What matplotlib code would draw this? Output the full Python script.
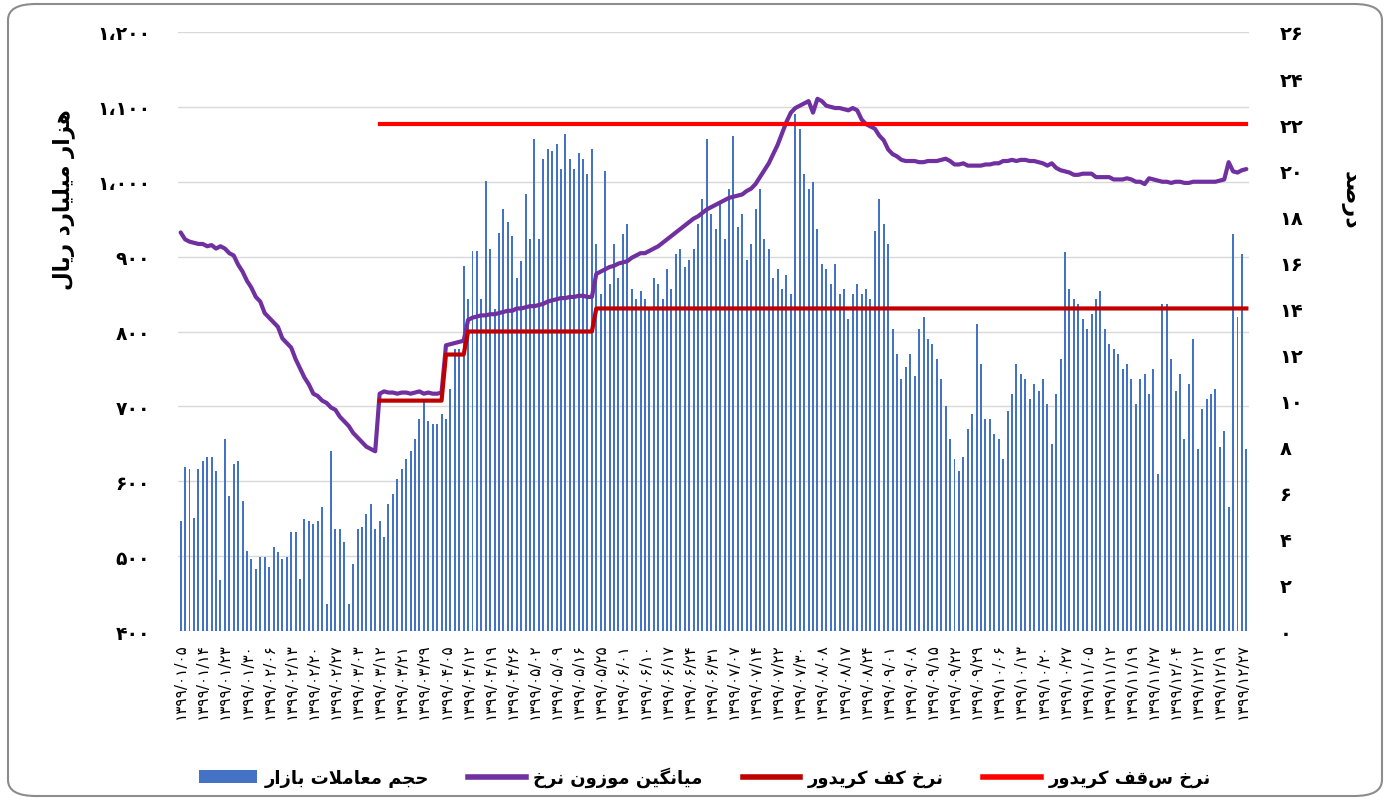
import matplotlib
matplotlib.use('AGG')

import matplotlib.pyplot as plt
from matplotlib.patches import FancyBboxPatch, Patch
from matplotlib.lines import Line2D
import numpy as np

plt.rcParams['font.family'] = ['DejaVu Sans']

# presentation forms: isolated, final, initial, medial (None = does not join forward)
FORMS = {
    'ا': ('\uFE8D', '\uFE8E', None, None),
    'ب': ('\uFE8F', '\uFE90', '\uFE91', '\uFE92'),
    'ت': ('\uFE95', '\uFE96', '\uFE97', '\uFE98'),
    'ج': ('\uFE9D', '\uFE9E', '\uFE9F', '\uFEA0'),
    'ح': ('\uFEA1', '\uFEA2', '\uFEA3', '\uFEA4'),
    'خ': ('\uFEA5', '\uFEA6', '\uFEA7', '\uFEA8'),
    'د': ('\uFEA9', '\uFEAA', None, None),
    'ر': ('\uFEAD', '\uFEAE', None, None),
    'ز': ('\uFEAF', '\uFEB0', None, None),
    'ص': ('\uFEB9', '\uFEBA', '\uFEBB', '\uFEBC'),
    'ع': ('\uFEC9', '\uFECA', '\uFECB', '\uFECC'),
    'ف': ('\uFED1', '\uFED2', '\uFED3', '\uFED4'),
    'ق': ('\uFED5', '\uFED6', '\uFED7', '\uFED8'),
    'ل': ('\uFEDD', '\uFEDE', '\uFEDF', '\uFEE0'),
    'م': ('\uFEE1', '\uFEE2', '\uFEE3', '\uFEE4'),
    'ن': ('\uFEE5', '\uFEE6', '\uFEE7', '\uFEE8'),
    'ه': ('\uFEE9', '\uFEEA', '\uFEEB', '\uFEEC'),
    'و': ('\uFEED', '\uFEEE', None, None),
    'ی': ('\uFBFC', '\uFBFD', '\uFBFE', '\uFBFF'),
    'ک': ('\uFB8E', '\uFB8F', '\uFB90', '\uFB91'),
    'گ': ('\uFB92', '\uFB93', '\uFB94', '\uFB95'),
}


def fa(text):
    # join persian letters and put them in visual (left to right) order
    out = []
    i = 0
    n = len(text)
    while i < n:
        ch = text[i]
        prev = text[i - 1] if i > 0 else ' '
        nxt = text[i + 1] if i + 1 < n else ' '
        joins_prev = prev in FORMS and FORMS[prev][2] is not None and ch in FORMS
        if ch == 'ل' and nxt == 'ا':
            out.append('\uFEFC' if joins_prev else '\uFEFB')
            i += 2
            continue
        if ch not in FORMS:
            out.append(ch)
            i += 1
            continue
        f = FORMS[ch]
        joins_next = f[2] is not None and nxt in FORMS
        if joins_prev and joins_next:
            out.append(f[3])
        elif joins_prev:
            out.append(f[1])
        elif joins_next:
            out.append(f[2])
        else:
            out.append(f[0])
        i += 1
    return ''.join(reversed(out))


def fa_num(s):
    return str(s).translate(str.maketrans('0123456789,', '۰۱۲۳۴۵۶۷۸۹،'))


# market volume (thousand billion rial), one bar per trading day
volume = [
    547, 619, 616, 551, 616, 627, 632, 632, 614, 468,
    656, 580, 623, 627, 574, 507, 496, 483, 499, 499,
    485, 512, 505, 496, 499, 532, 532, 469, 550, 547,
    543, 547, 566, 436, 640, 536, 536, 519, 436, 490,
    536, 539, 556, 570, 536, 547, 526, 570, 583, 603,
    616, 630, 640, 656, 683, 710, 680, 676, 676, 690,
    683, 723, 777, 777, 888, 843, 908, 908, 843, 1001,
    910, 830, 932, 963, 946, 928, 871, 894, 983, 924,
    1057, 924, 1030, 1044, 1041, 1050, 1017, 1064, 1030, 1017,
    1038, 1030, 1010, 1044, 917, 850, 1015, 863, 917, 871,
    930, 944, 857, 843, 854, 843, 830, 871, 863, 843,
    884, 857, 904, 910, 886, 896, 910, 944, 977, 1057,
    957, 937, 970, 924, 990, 1061, 940, 957, 896, 917,
    963, 990, 924, 910, 871, 884, 857, 876, 850, 1090,
    1070, 1010, 990, 1000, 937, 890, 884, 863, 890, 850,
    857, 817, 850, 863, 850, 857, 843, 934, 977, 944,
    917, 803, 770, 736, 753, 770, 740, 803, 820, 790,
    783, 763, 736, 700, 656, 630, 614, 632, 670, 690,
    810, 757, 683, 683, 663, 656, 630, 694, 717, 757,
    743, 736, 710, 730, 720, 736, 703, 650, 717, 763,
    906, 857, 843, 837, 817, 803, 823, 843, 854, 803,
    783, 777, 770, 750, 757, 736, 703, 736, 743, 717,
    750, 610, 837, 837, 763, 720, 743, 656, 730, 790,
    643, 697, 710, 717, 723, 646, 667, 565, 930, 820,
    903, 643,
]

# weighted average rate (percent)
avg_rate = [
    17.3, 17.0, 16.9, 16.85, 16.8, 16.8, 16.7, 16.75, 16.6, 16.7,
    16.6, 16.4, 16.3, 15.9, 15.6, 15.2, 14.9, 14.5, 14.3, 13.8,
    13.6, 13.4, 13.2, 12.7, 12.5, 12.3, 11.8, 11.4, 11.0, 10.7,
    10.3, 10.2, 10.0, 9.9, 9.7, 9.6, 9.3, 9.1, 8.9, 8.6,
    8.4, 8.2, 8.0, 7.9, 7.8, 10.3, 10.4, 10.35, 10.35, 10.3,
    10.35, 10.35, 10.3, 10.35, 10.4, 10.3, 10.35, 10.3, 10.3, 10.35,
    12.4, 12.45, 12.5, 12.55, 12.6, 13.5, 13.6, 13.65, 13.7, 13.7,
    13.75, 13.75, 13.8, 13.85, 13.9, 13.9, 14.0, 14.0, 14.05, 14.1,
    14.1, 14.15, 14.2, 14.3, 14.35, 14.4, 14.45, 14.45, 14.5, 14.5,
    14.55, 14.55, 14.5, 14.5, 15.5, 15.6, 15.7, 15.8, 15.85, 15.95,
    16.0, 16.05, 16.2, 16.3, 16.4, 16.4, 16.5, 16.6, 16.7, 16.85,
    17.0, 17.15, 17.3, 17.45, 17.6, 17.75, 17.9, 18.0, 18.15, 18.3,
    18.4, 18.5, 18.6, 18.7, 18.8, 18.85, 18.9, 18.95, 19.1, 19.2,
    19.4, 19.7, 20.0, 20.3, 20.7, 21.1, 21.6, 22.1, 22.5, 22.7,
    22.8, 22.9, 23.0, 22.5, 23.1, 23.0, 22.8, 22.75, 22.7, 22.7,
    22.65, 22.6, 22.7, 22.6, 22.2, 22.0, 21.9, 21.8, 21.5, 21.3,
    20.9, 20.7, 20.6, 20.45, 20.4, 20.4, 20.4, 20.35, 20.35, 20.4,
    20.4, 20.4, 20.45, 20.5, 20.4, 20.25, 20.25, 20.3, 20.2, 20.2,
    20.2, 20.2, 20.25, 20.25, 20.3, 20.3, 20.4, 20.4, 20.45, 20.4,
    20.45, 20.45, 20.4, 20.4, 20.35, 20.3, 20.2, 20.3, 20.1, 20.0,
    19.95, 19.9, 19.8, 19.8, 19.85, 19.85, 19.85, 19.7, 19.7, 19.7,
    19.7, 19.6, 19.6, 19.6, 19.65, 19.6, 19.5, 19.5, 19.4, 19.65,
    19.6, 19.55, 19.5, 19.5, 19.45, 19.5, 19.5, 19.45, 19.45, 19.5,
    19.5, 19.5, 19.5, 19.5, 19.5, 19.55, 19.6, 20.35, 19.95, 19.9,
    20.0, 20.05,
]

# corridor: (first day index, rate)
floor_steps = [(45, 10), (60, 12), (65, 13), (94, 14)]
ceiling_steps = [(45, 22)]

date_labels = [
    '۱۳۹۹/۰۱/۰۵', '۱۳۹۹/۰۱/۱۴', '۱۳۹۹/۰۱/۲۳', '۱۳۹۹/۰۱/۳۰', '۱۳۹۹/۰۲/۰۶',
    '۱۳۹۹/۰۲/۱۳', '۱۳۹۹/۰۲/۲۰', '۱۳۹۹/۰۲/۲۷', '۱۳۹۹/۰۳/۰۳', '۱۳۹۹/۰۳/۱۲',
    '۱۳۹۹/۰۳/۲۱', '۱۳۹۹/۰۳/۲۹', '۱۳۹۹/۰۴/۰۵', '۱۳۹۹/۰۴/۱۲', '۱۳۹۹/۰۴/۱۹',
    '۱۳۹۹/۰۴/۲۶', '۱۳۹۹/۰۵/۰۲', '۱۳۹۹/۰۵/۰۹', '۱۳۹۹/۰۵/۱۶', '۱۳۹۹/۰۵/۲۵',
    '۱۳۹۹/۰۶/۰۱', '۱۳۹۹/۰۶/۱۰', '۱۳۹۹/۰۶/۱۷', '۱۳۹۹/۰۶/۲۴', '۱۳۹۹/۰۶/۳۱',
    '۱۳۹۹/۰۷/۰۷', '۱۳۹۹/۰۷/۱۴', '۱۳۹۹/۰۷/۲۲', '۱۳۹۹/۰۷/۳۰', '۱۳۹۹/۰۸/۰۸',
    '۱۳۹۹/۰۸/۱۷', '۱۳۹۹/۰۸/۲۴', '۱۳۹۹/۰۹/۰۱', '۱۳۹۹/۰۹/۰۸', '۱۳۹۹/۰۹/۱۵',
    '۱۳۹۹/۰۹/۲۲', '۱۳۹۹/۰۹/۲۹', '۱۳۹۹/۱۰/۰۶', '۱۳۹۹/۱۰/۱۳', '۱۳۹۹/۱۰/۲۰',
    '۱۳۹۹/۱۰/۲۷', '۱۳۹۹/۱۱/۰۵', '۱۳۹۹/۱۱/۱۲', '۱۳۹۹/۱۱/۱۹', '۱۳۹۹/۱۱/۲۷',
    '۱۳۹۹/۱۲/۰۴', '۱۳۹۹/۱۲/۱۲', '۱۳۹۹/۱۲/۱۹', '۱۳۹۹/۱۲/۲۷',
]

n = len(volume)
x = np.arange(n)


def steps_to_series(steps):
    s = np.full(n, np.nan)
    for start, val in steps:
        s[start:] = val
    return s


floor_rate = steps_to_series(floor_steps)
ceiling_rate = steps_to_series(ceiling_steps)

W, H = 1389, 803
fig = plt.figure(figsize=(W / 100, H / 100), dpi=100)
fig.patches.append(FancyBboxPatch((8 / W, 6 / H), 1374 / W, 792 / H,
                                  boxstyle='round,pad=0,rounding_size=0.02',
                                  transform=fig.transFigure, facecolor='white',
                                  edgecolor='#8C8C8C', lw=1.5, zorder=-1))

ax = fig.add_axes([178 / W, 1 - 632 / H, (1249 - 178) / W, (632 - 33) / H])
ax.patch.set_alpha(0)
ax.bar(x, volume, width=0.45, color='#4472C4', lw=0, zorder=2)
ax.set_ylim(400, 1200)
ax.set_xlim(-0.6, n - 0.4)
yt = list(range(400, 1201, 100))
ax.set_yticks(yt)
ax.set_yticklabels([fa_num(f'{v:,}') for v in yt], fontsize=13.5, fontweight='bold')
ax.grid(axis='y', color='#D9D9D9', lw=1, zorder=0)
ax.set_axisbelow(True)
ax.set_xticks(range(0, n, 5))
ax.set_xticklabels(date_labels, rotation=90, fontsize=11)
ax.tick_params(axis='y', length=0, pad=20)
ax.tick_params(axis='x', length=0, pad=8)
for s in ax.spines.values():
    s.set_visible(False)

ax2 = ax.twinx()
ax2.plot(x, avg_rate, color='#7030A0', lw=3, solid_capstyle='round', zorder=3)
ax2.plot(x, floor_rate, color='#C00000', lw=3, zorder=3)
ax2.plot(x, ceiling_rate, color='#FF0000', lw=3, zorder=3)
ax2.set_ylim(0, 26)
rt = list(range(0, 27, 2))
ax2.set_yticks(rt)
ax2.set_yticklabels([fa_num(v) for v in rt], fontsize=14, fontweight='bold')
ax2.tick_params(axis='y', length=0, pad=22)
for s in ax2.spines.values():
    s.set_visible(False)

fig.text(64 / W, 1 - 200 / H, fa('هزار میلیارد ریال'), rotation=90,
         ha='center', va='center', fontsize=15.5, fontweight='bold')
fig.text(1350 / W, 1 - 200 / H, fa('درصد'), rotation=-90,
         ha='center', va='center', fontsize=16, fontweight='bold')

handles = [
    Patch(facecolor='#4472C4'),
    Line2D([], [], color='#7030A0', lw=4),
    Line2D([], [], color='#C00000', lw=4),
    Line2D([], [], color='#FF0000', lw=4),
]
names = [fa('حجم معاملات بازار'), fa('میانگین موزون نرخ'),
         fa('نرخ کف کریدور'), fa('نرخ سقف کریدور')]
fig.legend(handles, names, loc='center', bbox_to_anchor=(705 / W, 1 - 778 / H),
           ncol=4, frameon=False, handlelength=3.2, handletextpad=0.4,
           columnspacing=2.2, prop={'size': 13, 'weight': 'bold'})

fig.savefig('out.png', dpi=100)
